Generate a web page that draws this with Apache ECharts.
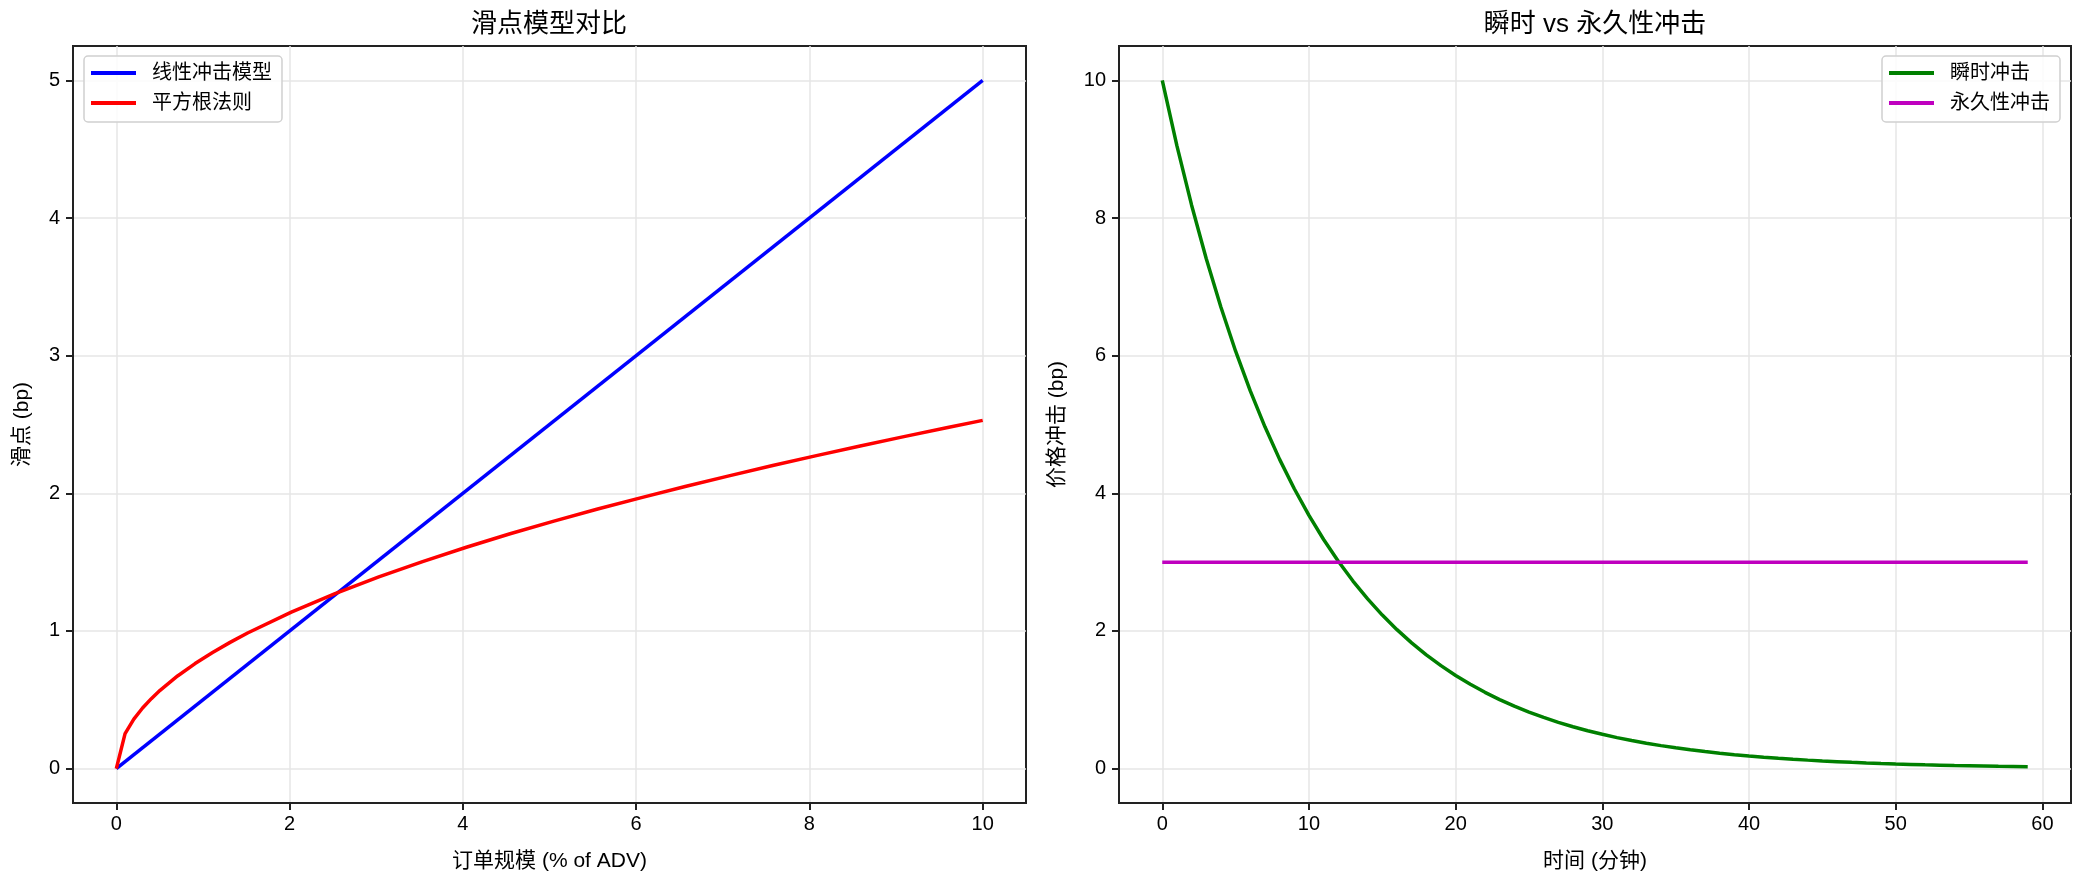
<!DOCTYPE html>
<html>
<head>
<meta charset="utf-8">
<script src="https://cdn.jsdelivr.net/npm/echarts@6/dist/echarts.min.js"></script>
<style>
html,body{margin:0;padding:0;background:#fff;}
#chart{width:2085px;height:885px;}
</style>
</head>
<body>
<div id="chart"></div>
<script>
// ---- data ----
const leftTitle = '滑点模型对比';
const rightTitle = '瞬时 vs 永久性冲击';
const leftXName = '订单规模 (% of ADV)';
const leftYName = '滑点 (bp)';
const rightXName = '时间 (分钟)';
const rightYName = '价格冲击 (bp)';

const linearName = '线性冲击模型';
const sqrtName = '平方根法则';
const tempName = '瞬时冲击';
const permName = '永久性冲击';

const linearX = [0, 10];
const linearY = [0, 5];

const sqrtX = [0, 0.101, 0.202, 0.303, 0.404, 0.505, 0.707, 0.909, 1.111, 1.313, 1.515, 2.020, 2.525, 3.030, 3.535, 4.040, 4.545, 5.051, 5.556, 6.061, 6.566, 7.071, 7.576, 8.081, 8.586, 9.091, 9.596, 10];
const sqrtY = [0, 0.254, 0.360, 0.440, 0.508, 0.569, 0.673, 0.763, 0.843, 0.917, 0.985, 1.137, 1.271, 1.393, 1.504, 1.608, 1.706, 1.798, 1.886, 1.969, 2.050, 2.127, 2.202, 2.274, 2.344, 2.412, 2.478, 2.530];

const timeX = [0,1,2,3,4,5,6,7,8,9,10,11,12,13,14,15,16,17,18,19,20,21,22,23,24,25,26,27,28,29,30,31,32,33,34,35,36,37,38,39,40,41,42,43,44,45,46,47,48,49,50,51,52,53,54,55,56,57,58,59];
const tempY = [10.000,9.048,8.187,7.408,6.703,6.065,5.488,4.966,4.493,4.066,3.679,3.329,3.012,2.725,2.466,2.231,2.019,1.827,1.653,1.496,1.353,1.225,1.108,1.003,0.907,0.821,0.743,0.672,0.608,0.550,0.498,0.450,0.408,0.369,0.334,0.302,0.273,0.247,0.224,0.202,0.183,0.166,0.150,0.136,0.123,0.111,0.101,0.091,0.082,0.074,0.067,0.061,0.055,0.050,0.045,0.041,0.037,0.033,0.030,0.027];
const permX = [0, 59];
const permY = [3, 3];

const leftXTicks = [0, 2, 4, 6, 8, 10];
const leftYTicks = [0, 1, 2, 3, 4, 5];
const rightXTicks = [0, 10, 20, 30, 40, 50, 60];
const rightYTicks = [0, 2, 4, 6, 8, 10];

// ---- build ----
const FONT = "'Liberation Sans', 'Noto Sans CJK SC', sans-serif";
const zip = (xs, ys) => xs.map((x, i) => [x, ys[i]]);

function valueAxis(gridIndex, min, max, ticks, name, isY, nameGap) {
  return {
    type: 'value', gridIndex, min, max,
    name, nameLocation: 'middle', nameGap,
    nameRotate: isY ? 90 : 0,
    nameTextStyle: {fontFamily: FONT, fontSize: 21, color: '#000'},
    axisLine: {show: true, onZero: false, lineStyle: {color: '#222', width: 2}},
    axisTick: {show: true, length: 7, lineStyle: {color: '#222', width: 2}, customValues: ticks},
    axisLabel: {show: true, customValues: ticks, fontFamily: FONT, fontSize: 20, color: '#000', margin: isY ? 13 : 11},
    splitLine: {show: true, lineStyle: {color: '#e6e6e6', width: 1.5}}
  };
}

function lineSeries(name, data, color, xi, yi) {
  return {
    type: 'line', name, data, xAxisIndex: xi, yAxisIndex: yi,
    showSymbol: false, symbol: 'none', smooth: false,
    lineStyle: {color, width: 3.5}, itemStyle: {color},
    emphasis: {disabled: true}, animation: false
  };
}

const legendCommon = {
  orient: 'vertical', icon: 'rect', itemWidth: 45, itemHeight: 4, itemGap: 10,
  padding: [7, 10, 9, 7],
  backgroundColor: 'rgba(255,255,255,0.85)',
  borderColor: '#d0d0d0', borderWidth: 1.5, borderRadius: 4,
  textStyle: {fontFamily: FONT, fontSize: 20, color: '#000', lineHeight: 20, padding: [0, 0, 0, 11]},
  selectedMode: false
};

const option = {
  backgroundColor: '#fff',
  animation: false,
  textStyle: {fontFamily: FONT},
  title: [
    {text: leftTitle, left: 549, top: 12, textAlign: 'center', padding: 0,
     textStyle: {fontFamily: FONT, fontSize: 26, fontWeight: 'normal', color: '#000'}},
    {text: rightTitle, left: 1595, top: 12, textAlign: 'center', padding: 0,
     textStyle: {fontFamily: FONT, fontSize: 26, fontWeight: 'normal', color: '#000'}}
  ],
  grid: [
    {left: 73, top: 46, width: 953, height: 757, show: true, borderColor: '#222', borderWidth: 2, backgroundColor: 'transparent', containLabel: false, outerBoundsMode: 'none'},
    {left: 1119, top: 46, width: 952, height: 757, show: true, borderColor: '#222', borderWidth: 2, backgroundColor: 'transparent', containLabel: false, outerBoundsMode: 'none'}
  ],
  xAxis: [
    valueAxis(0, -0.5, 10.5, leftXTicks, leftXName, false, 48),
    valueAxis(1, -2.95, 61.95, rightXTicks, rightXName, false, 48)
  ],
  yAxis: [
    valueAxis(0, -0.25, 5.25, leftYTicks, leftYName, true, 40),
    valueAxis(1, -0.5, 10.5, rightYTicks, rightYName, true, 51)
  ],
  legend: [
    Object.assign({}, legendCommon, {data: [linearName, sqrtName], left: 84, top: 56}),
    Object.assign({}, legendCommon, {data: [tempName, permName], right: 25, top: 56})
  ],
  series: [
    lineSeries(linearName, zip(linearX, linearY), '#0000ff', 0, 0),
    lineSeries(sqrtName, zip(sqrtX, sqrtY), '#ff0000', 0, 0),
    lineSeries(tempName, zip(timeX, tempY), '#008000', 1, 1),
    lineSeries(permName, zip(permX, permY), '#bf00bf', 1, 1)
  ]
};

const chart = echarts.init(document.getElementById('chart'), null, {renderer: 'canvas'});
chart.setOption(option);
</script>
</body>
</html>
